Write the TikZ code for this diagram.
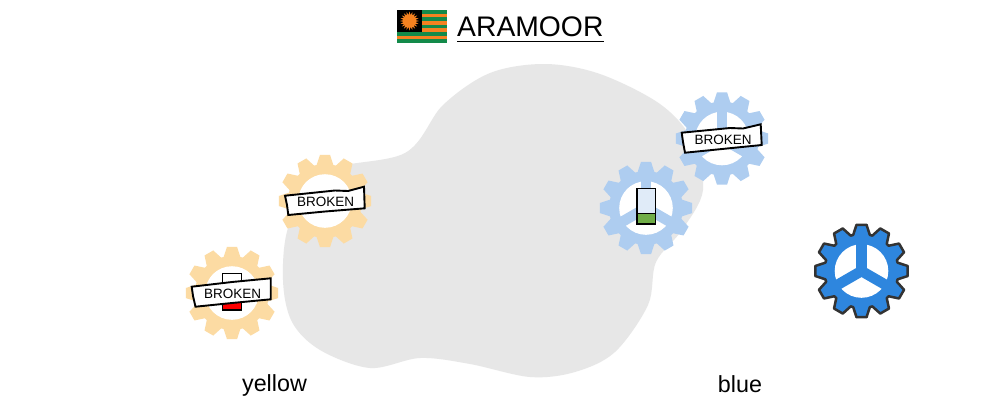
\documentclass[tikz,border=0pt]{standalone}
\usepackage{fontspec}
\setmainfont{Liberation Sans}
\definecolor{blobgrey}{HTML}{E7E7E7}
\definecolor{yellowgear}{HTML}{FCDBA3}
\definecolor{palegear}{HTML}{AECDF0}
\definecolor{darkgear}{HTML}{2E86DE}
\definecolor{gearedge}{HTML}{333333}
\definecolor{flaggreen}{HTML}{138A4A}
\definecolor{flagorange}{HTML}{F58220}
\definecolor{battfill}{HTML}{E0EBF8}
\definecolor{battgreen}{HTML}{70AD47}
\tikzset{
  gearbody/.style={line join=round},
  batt/.style={draw=black,line width=1.8pt},
  banner/.style={draw=black,line width=1.9pt,fill=white,line join=miter},
  bannertext/.style={font=\fontsize{13.5}{16}\selectfont,inner sep=0pt},
  textlabel/.style={font=\fontsize{23.3}{26}\selectfont,inner sep=0pt}
}
\newcommand{\geartooth}{%
  \foreach \a in {0,30,...,330}{
    -- ({\a-13}:37) -- ({\a-6.2}:46.5) -- ({\a+6.2}:46.5) -- ({\a+13}:37)
  }}
\newcommand{\gearat}[3]{%
  \begin{scope}[shift={(#1,#2)}]
    \path[gearbody,#3] (-13:37) \geartooth -- cycle;
    \fill[white] (0,0) circle[radius=26.8];
  \end{scope}}
\newcommand{\spokes}[3]{%
  \begin{scope}[shift={(#1,#2)}]
    \foreach \a in {270,30,150}{
      \draw[#3,line width=10.5pt] (0,0) -- (\a:30);
    }
  \end{scope}}
\begin{document}
\begin{tikzpicture}[x=1pt,y=-1pt]
\useasboundingbox (0,0) rectangle (1000,400);
\fill[white] (0,0) rectangle (1000,400);
% blob
\fill[blobgrey] plot[smooth cycle,tension=0.55] coordinates {
 (545,64) (600,74) (660,104) (692,140) (703,190) (682,230) (656,262) (648,305)
 (615,352) (575,372) (530,377) (470,364) (420,358) (370,368) (320,350) (292,322)
 (283,280) (289,225) (322,172) (405,153) (443,105) (490,73)};
% title flag
\fill[flaggreen] (397,10) rectangle (447,43);
\foreach \i in {1,3,5,7}{
  \fill[flagorange] (397,{10+\i*3.667}) rectangle (447,{10+(\i+1)*3.667});
}
\fill[black] (397,10) rectangle (422,32);
\begin{scope}[shift={(409.5,21)}]
\fill[flagorange] (0:9.5)
  \foreach \a in {0,18,...,342}{ -- (\a:9.5) -- ({\a+9}:6) } -- cycle;
\end{scope}
\node[inner sep=0pt,anchor=base west,font=\fontsize{28.3}{30}\selectfont] (title) at (457,36) {ARAMOOR};
\coordinate (ulstart) at (457,41.5);
\coordinate (ulend) at (603.5,41.5);
\draw[black,line width=1pt] (ulstart) -- (ulend);
% gears
\gearat{232}{293}{fill=yellowgear}
\gearat{325}{201}{fill=yellowgear}
\gearat{722}{138.5}{fill=palegear}
\spokes{722}{138.5}{palegear}
\gearat{646}{208}{fill=palegear}
\spokes{646}{208}{palegear}
\gearat{861.5}{271}{fill=darkgear,draw=gearedge,line width=2.5pt}
\spokes{861.5}{271}{darkgear}
% batteries
\draw[batt,fill=white] (222.5,273.5) rectangle (241.5,310);
\fill[red] (223.2,281.5) rectangle (240.8,309.3);
\draw[batt] (222.5,273.5) rectangle (241.5,310);
\draw[batt,fill=battfill] (637,188.5) rectangle (655.5,224);
\draw[batt,fill=battgreen] (637,213.5) rectangle (655.5,224);
% banners
\draw[banner] (191.7,286.7) -- (232,282) -- (270.7,278.3) -- (270.7,299.3) -- (232,303) -- (195.5,306.7) -- (193,296) -- cycle;
\node[bannertext] (b1) at (232.7,294) {BROKEN};
\draw[banner] (285,195.7) -- (335,190.5) -- (348,191) -- (364,186.7) -- (364.7,208.3) -- (325,211.5) -- (288.3,215) -- (287,205) -- cycle;
\node[bannertext] (b2) at (325.7,202) {BROKEN};
\draw[banner] (681.7,132.7) -- (730,128) -- (743,128.5) -- (760.7,124.3) -- (761.7,145) -- (722,149) -- (685,152.7) -- (683,142) -- cycle;
\node[bannertext] (b3) at (723,140) {BROKEN};
% labels
\node[textlabel] (yellow) at (274.5,385) {yellow};
\node[textlabel] (blue) at (740,384.5) {blue};
\end{tikzpicture}
\end{document}
